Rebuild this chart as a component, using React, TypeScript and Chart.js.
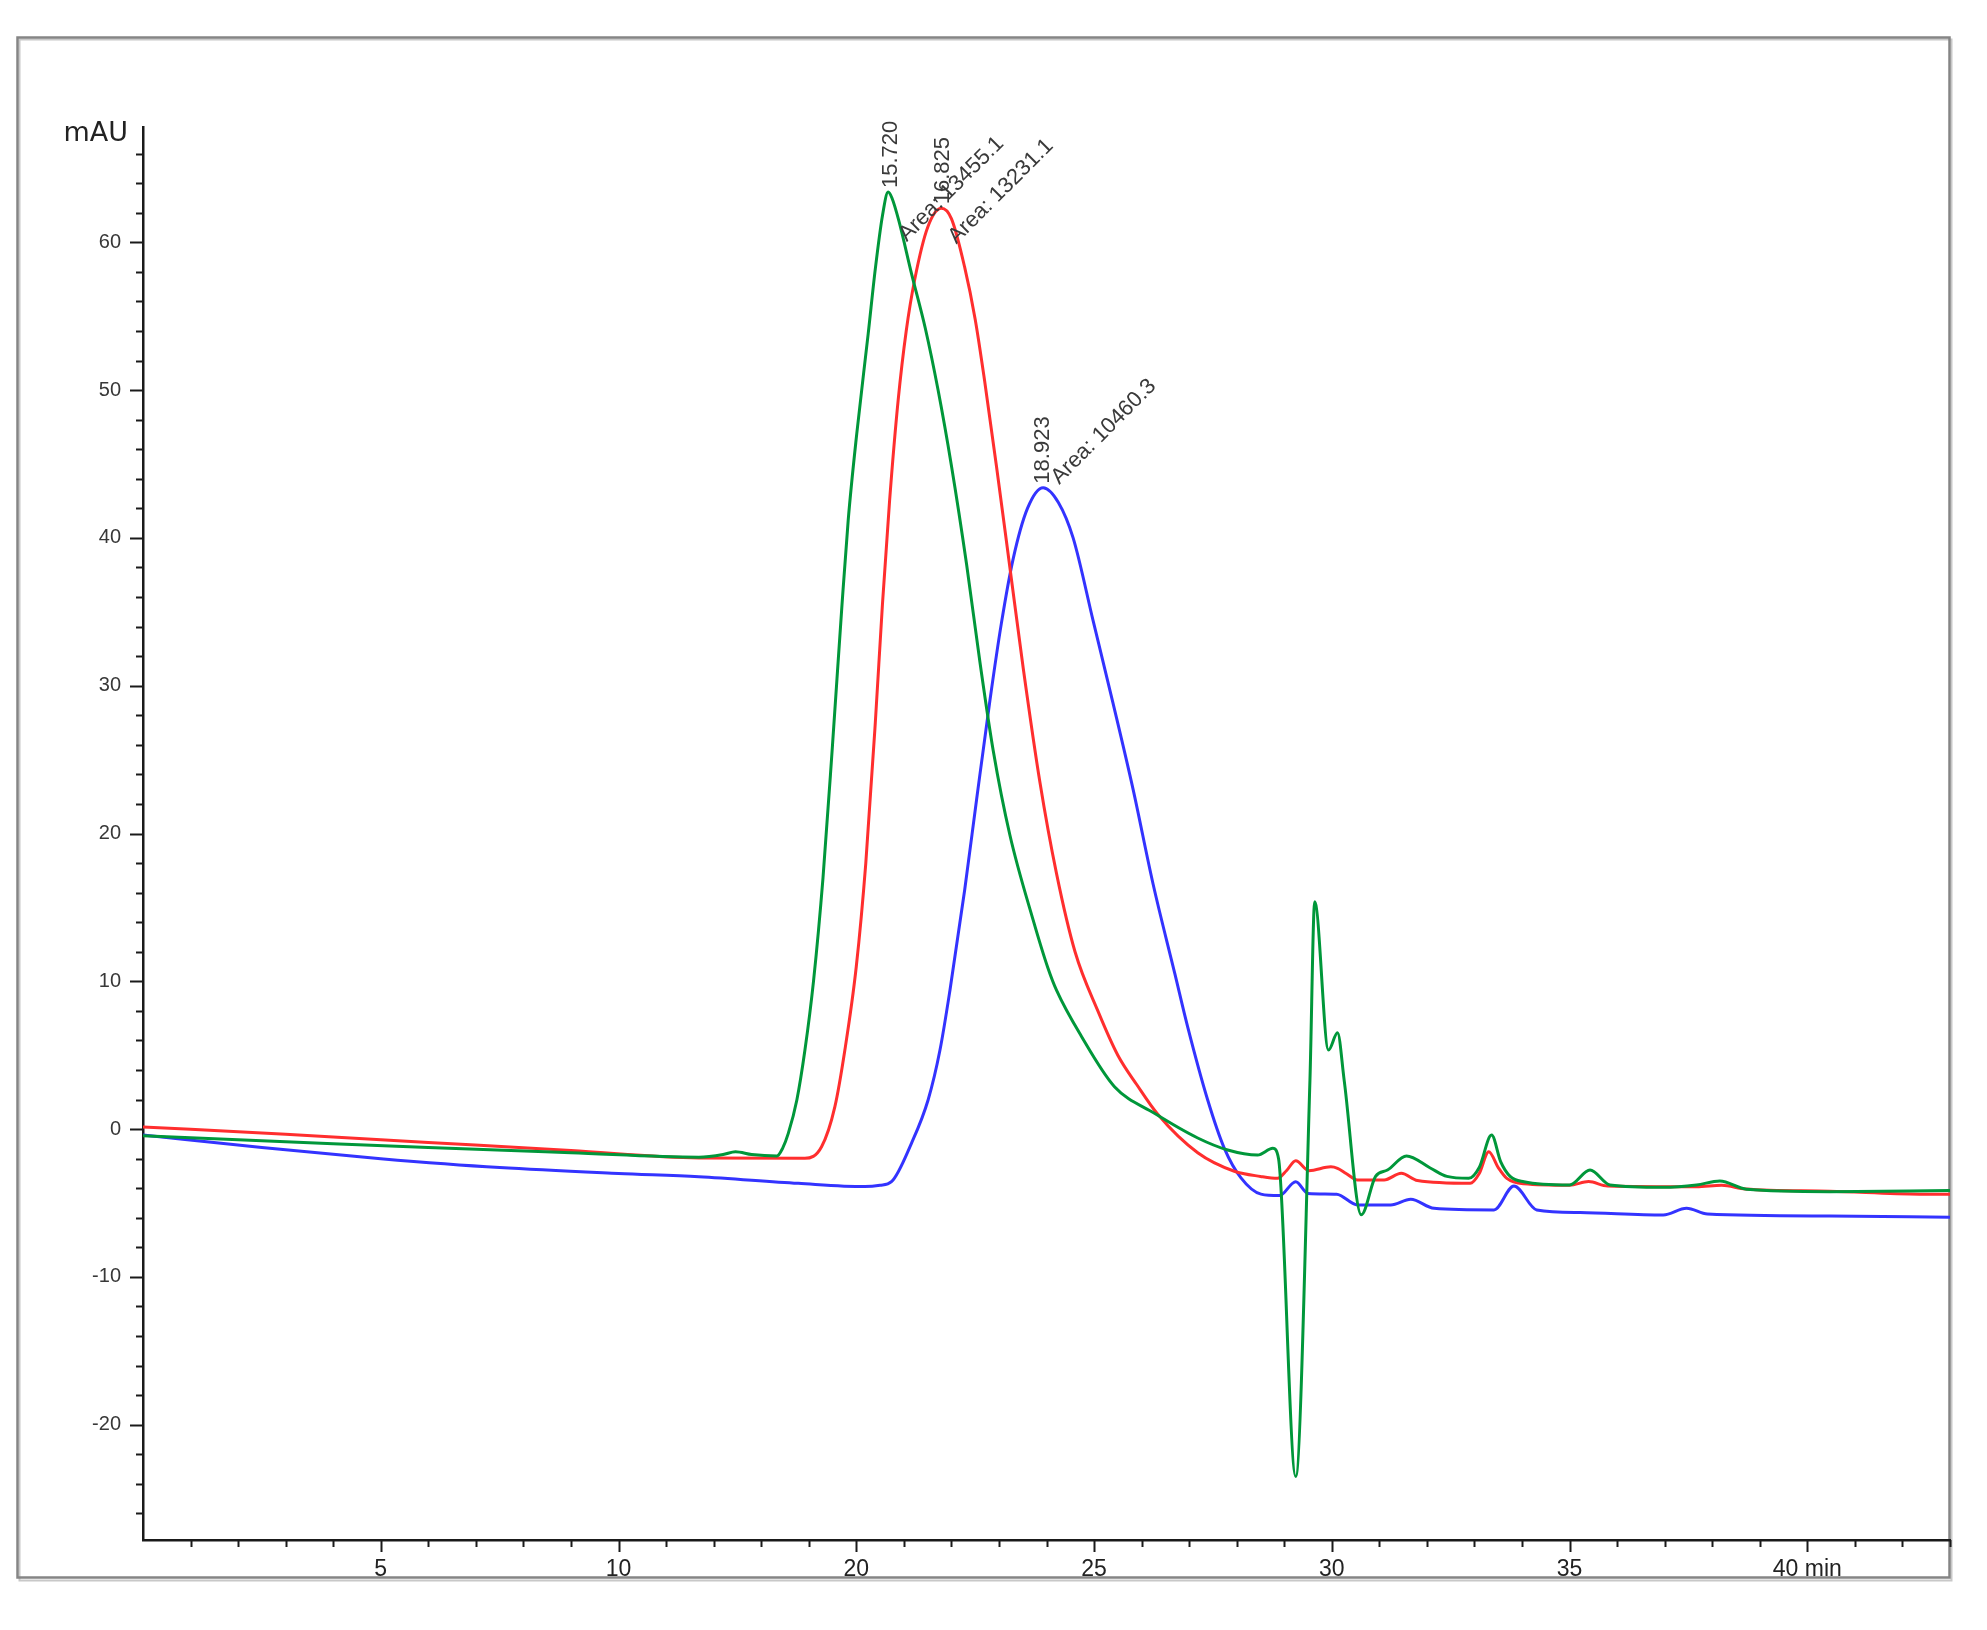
import React, { useEffect, useRef } from 'react';
import { Chart, registerables } from 'chart.js';

Chart.register(...registerables);

// ---- data (time in min, signal in mAU) ----
const greenTime = [0, 3, 6, 9, 11.69, 12.2, 12.46, 12.8, 13.33, 13.45, 13.57, 13.75, 13.92, 14.1, 14.3, 14.5, 14.7, 14.83, 15.01, 15.25, 15.4, 15.55, 15.67, 15.75, 15.9, 16.16, 16.45, 16.72, 17.0, 17.32, 17.6, 17.88, 18.23, 18.72, 19.03, 19.21, 19.73, 20.43, 21.27, 22.18, 22.81, 23.44, 23.76, 23.88, 24.24, 24.54, 24.64, 24.93, 25.12, 25.26, 25.62, 25.92, 26.17, 26.57, 27.07, 27.42, 27.88, 28.1, 28.36, 28.55, 28.75, 29.04, 30.0, 30.43, 30.85, 31.97, 32.67, 33.16, 33.72, 35.47, 38];
const greenSignal = [-0.45, -0.85, -1.25, -1.6, -1.9, -1.72, -1.53, -1.72, -1.82, -1.3, -0.29, 1.97, 5.35, 10, 17, 26, 35.5, 41.2, 47.06, 53.8, 58.2, 61.8, 63.4, 63.0, 61.4, 57.9, 54.2, 50.0, 44.9, 38.2, 31.6, 25.6, 19.9, 14.14, 10.9, 9.4, 6.3, 2.87, 1.07, -0.6, -1.41, -1.75, -1.3, -2.0, -23.5, 3.3, 15.38, 5.35, 6.52, 3.3, -5.8, -3.2, -2.77, -1.82, -2.63, -3.2, -3.33, -2.6, -0.4, -2.2, -3.2, -3.56, -3.78, -2.77, -3.78, -3.94, -3.78, -3.51, -4.07, -4.23, -4.16];

const redTime = [0, 3, 6, 9, 11.69, 13.92, 14.27, 14.55, 14.76, 15.0, 15.2, 15.4, 15.55, 15.7, 15.88, 16.05, 16.23, 16.5, 16.79, 17.0, 17.28, 17.5, 17.7, 17.95, 18.23, 18.51, 18.86, 19.21, 19.6, 20.08, 20.5, 20.9, 21.34, 22.18, 22.95, 23.5, 23.86, 24.05, 24.24, 24.52, 24.98, 25.12, 25.3, 25.54, 26.1, 26.46, 26.8, 27.91, 28.1, 28.3, 28.5, 28.68, 29.04, 30.0, 30.4, 30.8, 32.67, 33.2, 33.7, 35.47, 37.36, 38];
const redSignal = [0.15, -0.35, -0.9, -1.45, -1.95, -1.98, -1.19, 1.52, 5.35, 11, 18, 27.5, 35.5, 42.5, 49.3, 54, 57.5, 61, 62.3, 61.6, 58.3, 54.8, 50.6, 44.8, 38.0, 31.2, 23.5, 17.3, 12.0, 8.0, 5.0, 3.0, 1.0, -1.6, -2.85, -3.2, -3.33, -2.8, -2.14, -2.81, -2.55, -2.65, -3.0, -3.44, -3.44, -2.99, -3.48, -3.67, -3.0, -1.53, -2.6, -3.33, -3.7, -3.8, -3.55, -3.85, -3.9, -3.8, -4.05, -4.2, -4.4, -4.4];

const blueTime = [0, 2.5, 5, 7.5, 10, 11.69, 13.78, 15.18, 15.5, 15.74, 16.16, 16.51, 16.76, 16.97, 17.28, 17.53, 17.81, 18.05, 18.3, 18.6, 18.93, 19.25, 19.56, 19.98, 20.4, 20.82, 21.24, 21.7, 21.97, 22.39, 22.74, 23.09, 23.51, 23.9, 24.24, 24.5, 25.1, 25.54, 26.24, 26.66, 27.15, 28.41, 28.83, 29.31, 30.22, 31.97, 32.46, 32.9, 35.47, 38];
const blueSignal = [-0.4, -1.25, -2.0, -2.6, -3.0, -3.22, -3.67, -3.89, -3.8, -3.56, -0.96, 1.97, 5.35, 9.4, 16.2, 22.3, 29.0, 34.2, 38.6, 42.0, 43.4, 42.4, 40.0, 34.4, 28.8, 23.0, 16.6, 10.5, 6.9, 1.97, -1.3, -3.3, -4.4, -4.5, -3.56, -4.35, -4.4, -5.13, -5.13, -4.75, -5.36, -5.47, -3.85, -5.47, -5.65, -5.81, -5.36, -5.75, -5.88, -5.97];

const xTickValues = [5, 10, 15, 20, 25, 30, 35];
const xTickLabels = ['5', '10', '20', '25', '30', '35', '40 min'];

const peakTimes = [15.72, 16.825, 18.923];
const peakHeights = [63.4, 62.3, 43.4];
const peakTimeLabels = ['15.720', '16.825', '18.923'];
const peakAreaLabels = ['Area: 13455.1', 'Area: 13231.1', 'Area: 10460.3'];

const toPoints = (t: number[], s: number[]) => t.map((x, i) => ({ x, y: s[i] }));

// annotation offsets (pixels) for the area labels
const AREA_OFFSETS = [
  [12, 46],
  [9, 32],
  [12, -7],
];

const W = 1987;
const H = 1630;

const framePlugin = {
  id: 'frameAndTicks',
  beforeDraw(chart: any) {
    const ctx = chart.ctx;
    ctx.save();
    ctx.fillStyle = '#ffffff';
    ctx.fillRect(0, 0, W, H);
    ctx.strokeStyle = '#c8c8c8';
    ctx.lineWidth = 2;
    ctx.strokeRect(19.5, 39.5, 1932, 1541);
    ctx.strokeStyle = '#858585';
    ctx.lineWidth = 2.5;
    ctx.strokeRect(17.5, 37.5, 1932, 1540);
    ctx.restore();
  },
  afterDraw(chart: any) {
    const ctx = chart.ctx;
    const xs = chart.scales.x;
    const ys = chart.scales.y;
    const area = chart.chartArea;
    ctx.save();
    ctx.strokeStyle = '#1a1a1a';
    ctx.lineWidth = 2;
    for (let v = -26; v <= 66; v += 2) {
      const py = Math.round(ys.getPixelForValue(v)) + 0.5;
      const len = v % 10 === 0 ? 13 : 7;
      ctx.beginPath();
      ctx.moveTo(area.left - len, py);
      ctx.lineTo(area.left, py);
      ctx.stroke();
    }
    for (let v = 1; v <= 38; v += 1) {
      const px = Math.round(xs.getPixelForValue(v)) + 0.5;
      const len = v % 5 === 0 ? 12 : 7;
      ctx.beginPath();
      ctx.moveTo(px, area.bottom);
      ctx.lineTo(px, area.bottom + len);
      ctx.stroke();
    }
    ctx.fillStyle = '#222';
    ctx.font = '27px "DejaVu Sans", sans-serif';
    ctx.textAlign = 'right';
    ctx.textBaseline = 'middle';
    ctx.fillText('mAU', 128, 134);
    ctx.restore();
  },
  afterDatasetsDraw(chart: any) {
    const ctx = chart.ctx;
    const xs = chart.scales.x;
    const ys = chart.scales.y;
    ctx.save();
    ctx.fillStyle = '#3a3a3a';
    ctx.font = '22px "Liberation Sans", Arial, sans-serif';
    ctx.textBaseline = 'middle';
    ctx.textAlign = 'left';
    peakTimes.forEach((t, i) => {
      const px = xs.getPixelForValue(t);
      const py = ys.getPixelForValue(peakHeights[i]);
      ctx.save();
      ctx.translate(px, py - 4);
      ctx.rotate(-Math.PI / 2);
      ctx.fillText(peakTimeLabels[i], 0, 0);
      ctx.restore();
      ctx.save();
      ctx.translate(px + AREA_OFFSETS[i][0], py + AREA_OFFSETS[i][1]);
      ctx.rotate(-Math.PI / 4);
      ctx.fillText(peakAreaLabels[i], 0, 0);
      ctx.restore();
    });
    ctx.restore();
  },
};

export default function App() {
  const ref = useRef<HTMLCanvasElement | null>(null);
  useEffect(() => {
    if (!ref.current) return;
    const lineDs = (label: string, t: number[], s: number[], color: string) => ({
      label,
      data: toPoints(t, s),
      borderColor: color,
      backgroundColor: color,
      borderWidth: 3,
      pointRadius: 0,
      fill: false,
      cubicInterpolationMode: 'monotone' as const,
    });
    const chart = new Chart(ref.current, {
      type: 'line',
      data: {
        datasets: [
          lineDs('green', greenTime, greenSignal, '#00973a'),
          lineDs('red', redTime, redSignal, '#ff2e2e'),
          lineDs('blue', blueTime, blueSignal, '#3333ff'),
        ],
      },
      options: {
        responsive: false,
        animation: false,
        devicePixelRatio: 1,
        layout: { padding: { left: 0, top: 127, right: 37, bottom: 0 } },
        plugins: { legend: { display: false }, tooltip: { enabled: false } },
        scales: {
          x: {
            type: 'linear',
            min: 0,
            max: 38,
            grid: { display: false, drawTicks: false },
            border: { display: true, color: '#1a1a1a', width: 2.5 },
            ticks: {
              stepSize: 5,
              includeBounds: false,
              autoSkip: false,
              maxRotation: 0,
              padding: 16,
              color: '#222',
              font: { family: '"Liberation Sans", Arial, sans-serif', size: 23 },
              callback: (v: any) => {
                const i = xTickValues.indexOf(Number(v));
                return i >= 0 ? xTickLabels[i] : '';
              },
            },
            afterFit: (s: any) => {
              s.height = 90;
            },
          },
          y: {
            type: 'linear',
            min: -27.8,
            max: 67.8,
            grid: { display: false, drawTicks: false },
            border: { display: true, color: '#1a1a1a', width: 2.5 },
            ticks: {
              stepSize: 10,
              includeBounds: false,
              padding: 22,
              color: '#383838',
              font: { family: '"Liberation Sans", Arial, sans-serif', size: 20 },
            },
            afterFit: (s: any) => {
              s.width = 143;
            },
          },
        },
      },
      plugins: [framePlugin],
    });
    return () => chart.destroy();
  }, []);
  return (
    <div style={{ position: 'absolute', left: 0, top: 0, width: W, height: H, background: '#fff' }}>
      <canvas ref={ref} width={W} height={H} style={{ width: W, height: H, display: 'block' }} />
    </div>
  );
}
